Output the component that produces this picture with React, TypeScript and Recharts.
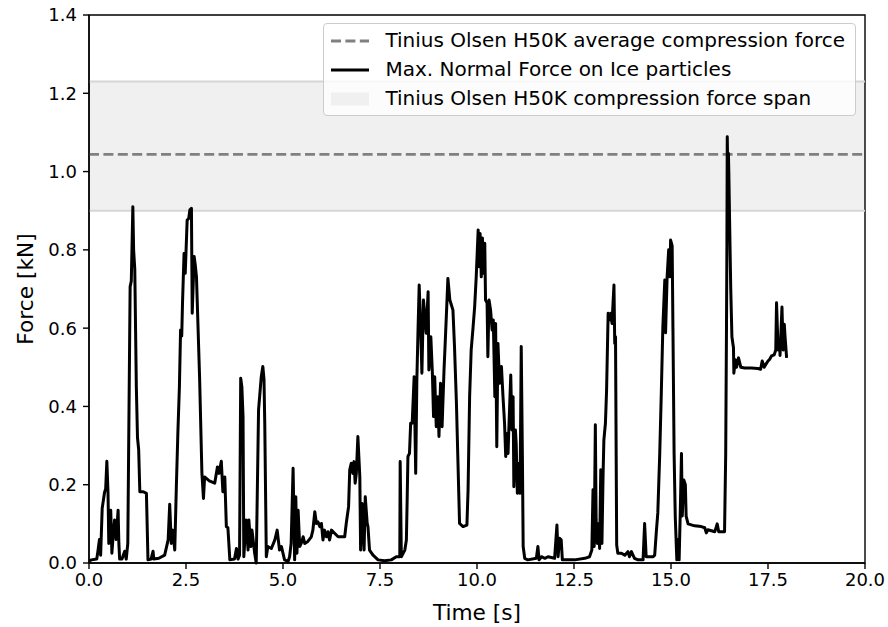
import React from "react";
import {
  LineChart,
  Line,
  XAxis,
  YAxis,
  ReferenceArea,
  ReferenceLine,
} from "recharts";

// time stamps [s] and max normal force [kN]
const timeS = [
  0.0, 0.06, 0.2, 0.23, 0.27, 0.3, 0.34, 0.37, 0.4, 0.43, 0.46, 0.49, 0.51, 0.54, 0.56, 0.59, 0.63, 0.66, 0.7, 0.75,
  0.77, 0.79, 0.85, 0.92, 0.96, 1.0, 1.06, 1.09, 1.13, 1.15, 1.18, 1.22, 1.25, 1.28, 1.31, 1.4, 1.48, 1.52, 1.6, 1.65,
  1.67, 1.8, 1.95, 2.04, 2.08, 2.12, 2.16, 2.21, 2.25, 2.29, 2.33, 2.36, 2.39, 2.41, 2.45, 2.48, 2.53, 2.57, 2.6, 2.64,
  2.66, 2.71, 2.74, 2.77, 2.85, 2.91, 2.95, 2.98, 3.1, 3.24, 3.31, 3.35, 3.41, 3.45, 3.5, 3.54, 3.58, 3.63,
  3.75, 3.8, 3.84, 3.88, 3.91, 3.94, 3.97, 3.99, 4.05, 4.1, 4.12, 4.17, 4.2, 4.27, 4.31, 4.37, 4.44, 4.48, 4.51, 4.53,
  4.57, 4.61, 4.7, 4.79, 4.85, 4.91, 4.96, 5.04, 5.13, 5.17, 5.21, 5.26, 5.3, 5.33, 5.36, 5.39, 5.43, 5.47, 5.52, 5.56,
  5.64, 5.73, 5.77, 5.82, 5.86, 5.9, 5.95, 5.99, 6.03, 6.07, 6.12, 6.16, 6.2, 6.25, 6.33, 6.42, 6.59, 6.63, 6.69, 6.72,
  6.76, 6.8, 6.83, 6.86, 6.89, 6.93, 6.98, 7.0, 7.04, 7.09, 7.12, 7.17,
  7.19, 7.23, 7.32, 7.45, 7.62, 7.79, 7.92, 8.01, 8.02, 8.05, 8.14, 8.18, 8.2, 8.22, 8.26, 8.29, 8.33, 8.38, 8.42, 8.45,
  8.48, 8.51, 8.55, 8.58, 8.62, 8.65, 8.69, 8.74, 8.76, 8.81, 8.85, 8.88, 8.91, 8.95, 8.99, 9.02, 9.06, 9.1, 9.15, 9.18,
  9.22, 9.25, 9.3, 9.34, 9.38, 9.42, 9.47, 9.51, 9.55, 9.64, 9.74, 9.77, 9.81, 9.85, 9.9, 9.94, 9.98, 10.03, 10.05, 10.08,
  10.11, 10.14, 10.16, 10.2, 10.22, 10.26, 10.28, 10.31, 10.35, 10.39, 10.42, 10.46, 10.48, 10.51, 10.54, 10.58, 10.63,
  10.67, 10.71, 10.74, 10.78,
  10.8, 10.82, 10.87, 10.9, 10.93, 10.95, 10.99, 11.01, 11.04, 11.08, 11.11, 11.14, 11.17, 11.19, 11.23, 11.31, 11.53,
  11.57, 11.6, 11.66, 11.75, 11.83, 12.0, 12.06, 12.09, 12.13, 12.17, 12.2, 12.52, 12.78, 12.9, 12.96, 12.99, 13.02,
  13.05, 13.07, 13.1, 13.14, 13.16, 13.19, 13.22, 13.25, 13.27, 13.31, 13.34, 13.38, 13.41, 13.45, 13.48, 13.53, 13.55,
  13.57, 13.6, 13.63, 13.72, 13.81, 13.89, 13.93, 13.98, 14.06, 14.15, 14.28, 14.32, 14.36,
  14.41, 14.54, 14.58, 14.62, 14.66, 14.71, 14.75, 14.79, 14.84, 14.86, 14.9, 14.94, 14.97, 14.99, 15.03, 15.05, 15.08,
  15.11, 15.15, 15.18, 15.21, 15.24, 15.27, 15.29, 15.33, 15.37, 15.39, 15.44, 15.61, 15.78, 15.87, 15.91, 15.95, 16.13,
  16.19, 16.23, 16.38, 16.41, 16.43, 16.44, 16.45, 16.47, 16.48, 16.49, 16.51, 16.54, 16.57, 16.61, 16.62, 16.66, 16.69,
  16.74, 16.8, 16.9, 17.07, 17.24, 17.31, 17.35, 17.4, 17.46, 17.5, 17.54, 17.59, 17.66, 17.7, 17.72, 17.76, 17.8, 17.81,
  17.86, 17.89, 17.92, 17.94, 17.98,
];

const forceKN = [
  0.005, 0.008, 0.01, 0.03, 0.06, 0.02, 0.14, 0.16, 0.18, 0.19, 0.26, 0.18, 0.05, 0.1, 0.135, 0.025, 0.08, 0.11, 0.06, 0.135,
  0.05, 0.01, 0.01, 0.03, 0.01, 0.05, 0.706, 0.72, 0.91, 0.8, 0.75, 0.45, 0.32, 0.29, 0.182, 0.182, 0.178, 0.008, 0.01, 0.03,
  0.01, 0.012, 0.02, 0.059, 0.15, 0.05, 0.084, 0.033, 0.19, 0.331, 0.45, 0.595, 0.58, 0.664, 0.791, 0.74, 0.876, 0.88, 0.902, 0.906,
  0.638, 0.783, 0.76, 0.731, 0.475, 0.229, 0.165, 0.22, 0.21, 0.204, 0.245, 0.229, 0.26, 0.182, 0.22, 0.093, 0.09, 0.008,
  0.01, 0.037, 0.01, 0.02, 0.472, 0.45, 0.374, 0.016, 0.11, 0.033, 0.11, 0.042, 0.084, 0.025, 0.0, 0.391, 0.476, 0.502, 0.47, 0.357,
  0.016, 0.042, 0.037, 0.059, 0.084, 0.033, 0.042, 0.008, 0.004, 0.016, 0.05, 0.242, 0.008, 0.169, 0.025, 0.135, 0.042, 0.05, 0.067, 0.05,
  0.055, 0.067, 0.084, 0.131, 0.101, 0.105, 0.093, 0.101, 0.059, 0.084, 0.067, 0.08, 0.059, 0.084, 0.076, 0.067, 0.067, 0.101, 0.144, 0.238,
  0.255, 0.229, 0.259, 0.204, 0.229, 0.323, 0.22, 0.033, 0.152, 0.033, 0.169, 0.101,
  0.093, 0.033, 0.02, 0.008, 0.006, 0.008, 0.016, 0.016, 0.259, 0.016, 0.033, 0.059, 0.161, 0.272, 0.28, 0.357, 0.357, 0.476, 0.229, 0.468,
  0.595, 0.71, 0.595, 0.485, 0.672, 0.638, 0.587, 0.693, 0.493, 0.578, 0.485, 0.374, 0.476, 0.348, 0.425, 0.323, 0.459, 0.348, 0.493, 0.561,
  0.655, 0.727, 0.672, 0.659, 0.646, 0.553, 0.408, 0.255, 0.101, 0.093, 0.097, 0.187, 0.425, 0.544, 0.604, 0.655, 0.731, 0.851, 0.757, 0.842,
  0.731, 0.83, 0.74, 0.817, 0.672, 0.664, 0.527, 0.672, 0.646, 0.595, 0.621, 0.425, 0.612, 0.297, 0.561, 0.459, 0.502,
  0.425, 0.357, 0.272, 0.331,
  0.28, 0.34, 0.48, 0.34, 0.425, 0.195, 0.34, 0.306, 0.178, 0.255, 0.178, 0.553, 0.272, 0.042, 0.012, 0.008, 0.012,
  0.042, 0.008, 0.016, 0.012, 0.016, 0.012, 0.097, 0.016, 0.063, 0.059, 0.008, 0.008, 0.012, 0.016, 0.033, 0.187, 0.042,
  0.353, 0.11, 0.05, 0.101, 0.037, 0.238, 0.05, 0.229, 0.314, 0.357, 0.442, 0.638, 0.621, 0.638, 0.612, 0.71, 0.561,
  0.578, 0.046, 0.025, 0.025, 0.02, 0.029, 0.016, 0.029, 0.012, 0.008, 0.008, 0.101, 0.016,
  0.016, 0.016, 0.02, 0.077, 0.128, 0.28, 0.434, 0.603, 0.723, 0.588, 0.731, 0.8, 0.731, 0.825, 0.81, 0.6, 0.28,
  0.118, 0.008, 0.06, 0.008, 0.135, 0.28, 0.12, 0.212, 0.2, 0.12, 0.1, 0.095, 0.093, 0.09, 0.077, 0.085, 0.08,
  0.1, 0.08, 0.08, 0.28, 0.6, 0.79, 1.089, 0.95, 1.047, 1.0, 0.876, 0.7, 0.578, 0.55, 0.485, 0.519, 0.5,
  0.524, 0.5, 0.498, 0.498, 0.497, 0.495, 0.516, 0.5, 0.51, 0.516, 0.52, 0.529, 0.532, 0.544, 0.665, 0.544, 0.57, 0.53,
  0.654, 0.544, 0.61, 0.578, 0.524,
];

const xTicks = [0, 2.5, 5, 7.5, 10, 12.5, 15, 17.5, 20];
const yTicks = [0, 0.2, 0.4, 0.6, 0.8, 1.0, 1.2, 1.4];

// Tinius Olsen H50K reference values [kN]
const spanLow = 0.9;
const spanHigh = 1.23;
const avgForce = 1.044;

const legendLabels = [
  "Tinius Olsen H50K average compression force",
  "Max. Normal Force on Ice particles",
  "Tinius Olsen H50K compression force span",
];

const FONT = "'DejaVu Sans', sans-serif";

function LegendBox() {
  const handle = (i: number) => {
    if (i === 0)
      return (
        <svg width={38} height={14}>
          <line x1={0} y1={7} x2={38} y2={7} stroke="#808080" strokeWidth={2.8} strokeDasharray="10 4.4" />
        </svg>
      );
    if (i === 1)
      return (
        <svg width={38} height={14}>
          <line x1={0} y1={7} x2={38} y2={7} stroke="#000" strokeWidth={2.8} />
        </svg>
      );
    return (
      <svg width={38} height={14}>
        <rect x={0} y={0.5} width={38} height={13} fill="#f0f0f0" />
      </svg>
    );
  };
  return (
    <div
      style={{
        position: "absolute",
        right: 32,
        top: 23,
        border: "1px solid #cccccc",
        borderRadius: 4,
        background: "rgba(255,255,255,0.8)",
        padding: "5px 10px 5px 7px",
        fontFamily: FONT,
        fontSize: 20,
        lineHeight: "23px",
        display: "flex",
        flexDirection: "column",
        gap: 6,
      }}
    >
      {legendLabels.map((label, i) => (
        <div key={label} style={{ display: "flex", alignItems: "center", whiteSpace: "nowrap" }}>
          {handle(i)}
          <span style={{ marginLeft: 16 }}>{label}</span>
        </div>
      ))}
    </div>
  );
}

export default function App() {
  const data = timeS.map((t, i) => ({ t, f: forceKN[i] }));

  return (
    <div style={{ position: "absolute", left: 0, top: 0, width: 888, height: 627, background: "#fff" }}>
      <LineChart
        width={888}
        height={627}
        data={data}
        margin={{ top: 15, right: 23, bottom: 0, left: 0 }}
      >
        <XAxis
          dataKey="t"
          type="number"
          domain={[0, 20]}
          ticks={xTicks}
          tickFormatter={(v: number) => v.toFixed(1)}
          height={64}
          tickSize={6}
          tickMargin={4}
          axisLine={{ stroke: "#000", strokeWidth: 1.4 }}
          tickLine={{ stroke: "#000", strokeWidth: 1.4 }}
          tick={{ fill: "#000", fontSize: 18, fontFamily: FONT }}
          label={{
            value: "Time [s]",
            position: "insideBottom",
            offset: 7,
            style: { fill: "#000", fontSize: 21.7, fontFamily: FONT },
          }}
        />
        <YAxis
          type="number"
          domain={[0, 1.4]}
          ticks={yTicks}
          tickFormatter={(v: number) => v.toFixed(1)}
          width={89}
          tickSize={6}
          tickMargin={6}
          axisLine={{ stroke: "#000", strokeWidth: 1.4 }}
          tickLine={{ stroke: "#000", strokeWidth: 1.4 }}
          tick={{ fill: "#000", fontSize: 18, fontFamily: FONT }}
          label={{
            value: "Force [kN]",
            angle: -90,
            position: "insideLeft",
            offset: 25,
            style: { fill: "#000", fontSize: 21.7, fontFamily: FONT, textAnchor: "middle" },
          }}
        />
        <ReferenceArea y1={spanLow} y2={spanHigh} x1={0} x2={20} fill="#f0f0f0" fillOpacity={1} stroke="none" />
        <ReferenceLine y={spanLow} stroke="#d6d6d6" strokeWidth={2} />
        <ReferenceLine y={spanHigh} stroke="#d6d6d6" strokeWidth={2} />
        <ReferenceLine y={avgForce} stroke="#808080" strokeWidth={2.8} strokeDasharray="10 4.4" />
        <ReferenceArea x1={0} x2={20} y1={0} y2={1.4} fill="none" stroke="#000" strokeWidth={1.4} />
        <Line
          type="linear"
          dataKey="f"
          stroke="#000"
          strokeWidth={3}
          strokeLinejoin="round"
          dot={false}
          isAnimationActive={false}
        />
      </LineChart>
      <LegendBox />
    </div>
  );
}
